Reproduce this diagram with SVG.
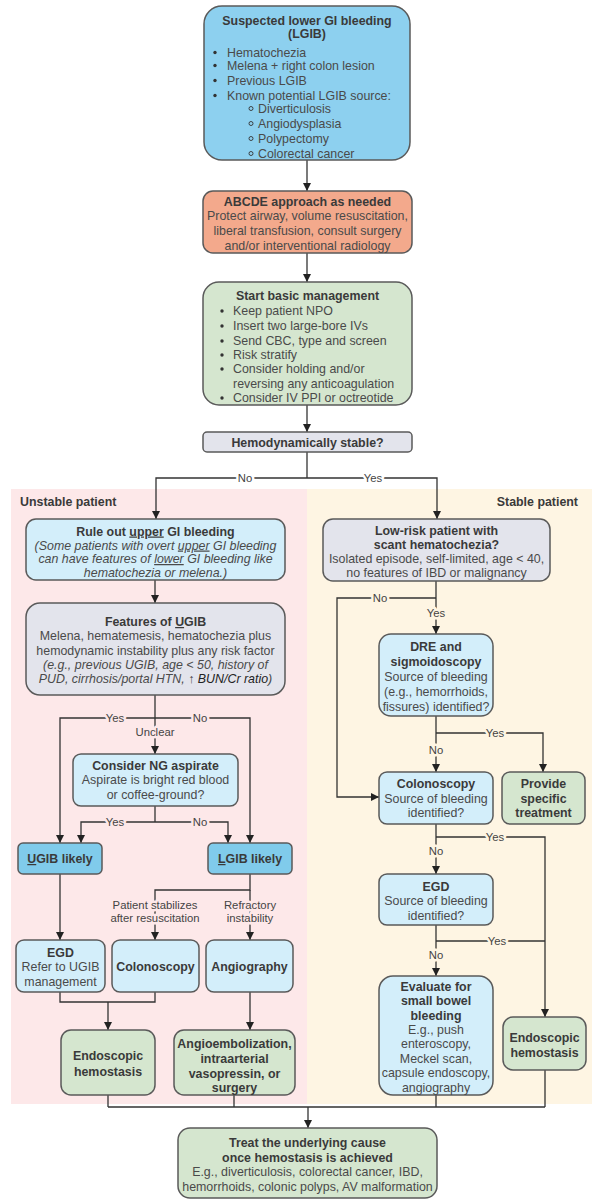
<svg xmlns="http://www.w3.org/2000/svg" width="602" height="1200" viewBox="0 0 602 1200">
<defs>
<marker id="ah" markerUnits="userSpaceOnUse" markerWidth="10" markerHeight="10" refX="8" refY="4" orient="auto">
<path d="M0,0 L8,4 L0,8 Z" fill="#222"/>
</marker>
<style>
text{font-family:"Liberation Sans",Arial,sans-serif;font-size:12.4px;fill:#4a4a4a}
.c{text-anchor:middle}
.b{font-weight:bold;fill:#3a3a3a}
.i{font-style:italic}
.u{text-decoration:underline}
.box{stroke:#5a5a5a;stroke-width:1.5}
.blue{fill:#8dd0ef}
.lblue{fill:#d3eefa}
.mblue{fill:#80cbeb}
.salmon{fill:#f3a98c}
.green{fill:#d5e6cf}
.gray{fill:#e3e4ec}
.ln{fill:none;stroke:#333;stroke-width:1.3}
.arr{marker-end:url(#ah)}
.lbl{font-size:11.3px;text-anchor:middle;fill:#444;paint-order:stroke;stroke-width:5px;stroke-linejoin:round}
.lw{stroke:#ffffff}
.lp{stroke:#fde8e9}
.ly{stroke:#fef5e3}
</style>
</defs>
<rect width="602" height="1200" fill="#ffffff"/>
<!-- panels -->
<g id="panels">
<rect x="11" y="489" width="296" height="615" fill="#fde8e9"/>
<rect x="307" y="489" width="285" height="615" fill="#fef5e3"/>
<text x="20" y="506" class="b">Unstable patient</text>
<text x="578" y="506" class="b" text-anchor="end">Stable patient</text>
</g>
<!-- connectors -->
<g id="connectors">
<path class="ln arr" d="M307,160 V191"/>
<path class="ln arr" d="M307,253 V282"/>
<path class="ln arr" d="M307,405 V432"/>
<path class="ln" d="M307,452 V478"/>
<path class="ln arr" d="M307,478 H156 V519"/>
<path class="ln arr" d="M307,478 H437 V519"/>
<text x="245" y="482" class="lbl lw">No</text>
<text x="373" y="482" class="lbl lw">Yes</text>
<!-- left -->
<path class="ln arr" d="M155,580 V603"/>
<path class="ln arr" d="M155,695 V754"/>
<path class="ln arr" d="M155,718 H60 V843"/>
<path class="ln arr" d="M155,718 H250 V843"/>
<text x="115" y="722" class="lbl lp">Yes</text>
<text x="200" y="722" class="lbl lp">No</text>
<text x="155" y="736" class="lbl lp">Unclear</text>
<path class="ln" d="M155,806 V822"/>
<path class="ln arr" d="M155,822 H81 V843"/>
<path class="ln arr" d="M155,822 H228 V843"/>
<text x="115" y="826" class="lbl lp">Yes</text>
<text x="200" y="826" class="lbl lp">No</text>
<path class="ln arr" d="M60,874 V940"/>
<path class="ln arr" d="M250,874 V890 H155 V940"/>
<path class="ln arr" d="M250,890 V940"/>
<text x="155" y="909" class="lbl lp">Patient stabilizes</text>
<text x="155" y="922" class="lbl lp">after resuscitation</text>
<text x="250" y="909" class="lbl lp">Refractory</text>
<text x="250" y="922" class="lbl lp">instability</text>
<path class="ln" d="M60,992 V1002 H155 V992"/>
<path class="ln arr" d="M108,1002 V1030"/>
<path class="ln arr" d="M250,992 V1030"/>
<!-- right -->
<path class="ln arr" d="M436,581 V634"/>
<path class="ln arr" d="M436,598 H337 V797 H379"/>
<text x="380" y="602" class="lbl ly">No</text>
<text x="436" y="617" class="lbl ly">Yes</text>
<path class="ln arr" d="M436,716 V772"/>
<path class="ln arr" d="M436,733 H543 V772"/>
<text x="495" y="737" class="lbl ly">Yes</text>
<text x="436" y="754" class="lbl ly">No</text>
<path class="ln arr" d="M436,824 V874"/>
<path class="ln arr" d="M436,837 H545 V1017"/>
<text x="495" y="841" class="lbl ly">Yes</text>
<text x="436" y="855" class="lbl ly">No</text>
<path class="ln arr" d="M436,925 V976"/>
<path class="ln" d="M436,941 H545"/>
<text x="497" y="945" class="lbl ly">Yes</text>
<text x="436" y="959" class="lbl ly">No</text>
<!-- bottom -->
<path class="ln" d="M108,1095 V1107 M234,1095 V1107 M436,1095 V1107 M545,1070 V1107 M108,1107 H545"/>
<path class="ln arr" d="M308,1107 V1128"/>
</g>
<!-- nodes -->
<g id="n_suspected">
<rect x="204" y="6" width="206" height="154" rx="18" class="box blue"/>
<text x="307" y="24.5" class="c b">Suspected lower GI bleeding</text>
<text x="307" y="38" class="c b">(LGIB)</text>
<circle cx="215" cy="52.5" r="1.7" fill="#333"/>
<circle cx="215" cy="65.5" r="1.7" fill="#333"/>
<circle cx="215" cy="80.5" r="1.7" fill="#333"/>
<circle cx="215" cy="95.5" r="1.7" fill="#333"/>
<text x="227" y="56.5" fill="#333">Hematochezia</text>
<text x="227" y="69.5" fill="#333">Melena + right colon lesion</text>
<text x="227" y="84.5" fill="#333">Previous LGIB</text>
<text x="227" y="99.5" fill="#333">Known potential LGIB source:</text>
<circle cx="251" cy="108.5" r="2" fill="none" stroke="#333" stroke-width="0.9"/>
<circle cx="251" cy="123.5" r="2" fill="none" stroke="#333" stroke-width="0.9"/>
<circle cx="251" cy="138.5" r="2" fill="none" stroke="#333" stroke-width="0.9"/>
<circle cx="251" cy="153.5" r="2" fill="none" stroke="#333" stroke-width="0.9"/>
<text x="258" y="112.5" fill="#333">Diverticulosis</text>
<text x="258" y="127.5" fill="#333">Angiodysplasia</text>
<text x="258" y="142.5" fill="#333">Polypectomy</text>
<text x="258" y="157.5" fill="#333">Colorectal cancer</text>
</g>
<g id="n_abcde">
<rect x="203" y="191" width="209" height="62" rx="10" class="box salmon"/>
<text x="307.5" y="205.5" class="c b">ABCDE approach as needed</text>
<text x="307.5" y="219.5" class="c">Protect airway, volume resuscitation,</text>
<text x="307.5" y="234.5" class="c">liberal transfusion, consult surgery</text>
<text x="307.5" y="249.5" class="c">and/or interventional radiology</text>
</g>
<g id="n_basic">
<rect x="203" y="282" width="209" height="123" rx="16" class="box green"/>
<text x="307.5" y="299.5" class="c b">Start basic management</text>
<circle cx="222" cy="311" r="1.7" fill="#333"/>
<circle cx="222" cy="326" r="1.7" fill="#333"/>
<circle cx="222" cy="341" r="1.7" fill="#333"/>
<circle cx="222" cy="355" r="1.7" fill="#333"/>
<circle cx="222" cy="369" r="1.7" fill="#333"/>
<circle cx="222" cy="398" r="1.7" fill="#333"/>
<text x="233" y="315" fill="#333">Keep patient NPO</text>
<text x="233" y="330" fill="#333">Insert two large-bore IVs</text>
<text x="233" y="345" fill="#333">Send CBC, type and screen</text>
<text x="233" y="359" fill="#333">Risk stratify</text>
<text x="233" y="373" fill="#333">Consider holding and/or</text>
<text x="233" y="388" fill="#333">reversing any anticoagulation</text>
<text x="233" y="402" fill="#333">Consider IV PPI or octreotide</text>
</g>
<g id="n_hemo">
<rect x="203" y="432" width="209" height="20" rx="4" class="box gray"/>
<text x="307.5" y="446.5" class="c b">Hemodynamically stable?</text>
</g>
<g id="n_ruleout">
<rect x="26" y="519" width="259" height="61" rx="10" class="box lblue"/>
<text x="155.5" y="535.5" class="c b">Rule out <tspan class="u">upper</tspan> GI bleeding</text>
<text x="155.5" y="549.5" class="c i">(Some patients with overt <tspan class="u">upper</tspan> GI bleeding</text>
<text x="155.5" y="563" class="c i">can have features of <tspan class="u">lower</tspan> GI bleeding like</text>
<text x="155.5" y="576.5" class="c i">hematochezia or melena.)</text>
</g>
<g id="n_features">
<rect x="26" y="603" width="259" height="92" rx="14" class="box gray"/>
<text x="155.5" y="626" class="c b">Features of <tspan class="u">U</tspan>GIB</text>
<text x="155.5" y="640" class="c">Melena, hematemesis, hematochezia plus</text>
<text x="155.5" y="654.5" class="c">hemodynamic instability plus any risk factor</text>
<text x="155.5" y="669" class="c i">(e.g., previous UGIB, age &lt; 50, history of</text>
<text x="155.5" y="682.5" class="c i">PUD, cirrhosis/portal HTN, ↑ <tspan fill="#222">BUN/Cr ratio</tspan>)</text>
</g>
<g id="n_ng">
<rect x="73" y="754" width="165" height="52" rx="8" class="box lblue"/>
<text x="155.5" y="770" class="c b">Consider NG aspirate</text>
<text x="155.5" y="784" class="c">Aspirate is bright red blood</text>
<text x="155.5" y="798.5" class="c">or coffee-ground?</text>
</g>
<g id="n_ugib">
<rect x="18" y="843" width="84" height="31" rx="5" class="box mblue"/>
<text x="60" y="863" class="c b"><tspan class="u">U</tspan>GIB likely</text>
</g>
<g id="n_lgib">
<rect x="208" y="843" width="84" height="31" rx="5" class="box mblue"/>
<text x="250" y="863" class="c b"><tspan class="u">L</tspan>GIB likely</text>
</g>
<g id="n_egd_left">
<rect x="16" y="940" width="89" height="52" rx="8" class="box lblue"/>
<text x="60.5" y="957" class="c b">EGD</text>
<text x="60.5" y="971" class="c">Refer to UGIB</text>
<text x="60.5" y="986" class="c">management</text>
</g>
<g id="n_colo_left">
<rect x="112" y="940" width="87" height="52" rx="8" class="box lblue"/>
<text x="155.5" y="971" class="c b">Colonoscopy</text>
</g>
<g id="n_angio">
<rect x="206" y="940" width="87" height="52" rx="8" class="box lblue"/>
<text x="249.5" y="971" class="c b">Angiography</text>
</g>
<g id="n_endo_left">
<rect x="61" y="1030" width="94" height="65" rx="10" class="box green"/>
<text x="108" y="1059.5" class="c b">Endoscopic</text>
<text x="108" y="1075.5" class="c b">hemostasis</text>
</g>
<g id="n_angioemb">
<rect x="174" y="1030" width="121" height="65" rx="10" class="box green"/>
<text x="234.5" y="1047.5" class="c b">Angioembolization,</text>
<text x="234.5" y="1062.5" class="c b">intraarterial</text>
<text x="234.5" y="1077.5" class="c b">vasopressin, or</text>
<text x="234.5" y="1091.5" class="c b">surgery</text>
</g>
<g id="n_lowrisk">
<rect x="323" y="519" width="227" height="62" rx="10" class="box gray"/>
<text x="436.5" y="534.5" class="c b">Low-risk patient with</text>
<text x="436.5" y="548.5" class="c b">scant hematochezia?</text>
<text x="436.5" y="562.5" class="c">Isolated episode, self-limited, age &lt; 40,</text>
<text x="436.5" y="577" class="c">no features of IBD or malignancy</text>
</g>
<g id="n_dre">
<rect x="379" y="634" width="114" height="82" rx="12" class="box lblue"/>
<text x="436" y="651" class="c b">DRE and</text>
<text x="436" y="666" class="c b">sigmoidoscopy</text>
<text x="436" y="681" class="c">Source of bleeding</text>
<text x="436" y="696" class="c">(e.g., hemorrhoids,</text>
<text x="436" y="710.5" class="c">fissures) identified?</text>
</g>
<g id="n_colo_right">
<rect x="379" y="772" width="114" height="52" rx="8" class="box lblue"/>
<text x="436" y="788" class="c b">Colonoscopy</text>
<text x="436" y="802.5" class="c">Source of bleeding</text>
<text x="436" y="817" class="c">identified?</text>
</g>
<g id="n_provide">
<rect x="502" y="772" width="83" height="52" rx="8" class="box green"/>
<text x="543.5" y="788" class="c b">Provide</text>
<text x="543.5" y="802.5" class="c b">specific</text>
<text x="543.5" y="817" class="c b">treatment</text>
</g>
<g id="n_egd_right">
<rect x="379" y="874" width="114" height="51" rx="8" class="box lblue"/>
<text x="436" y="891" class="c b">EGD</text>
<text x="436" y="905" class="c">Source of bleeding</text>
<text x="436" y="919.5" class="c">identified?</text>
</g>
<g id="n_smallbowel">
<rect x="379" y="976" width="114" height="119" rx="14" class="box lblue"/>
<text x="436" y="991" class="c b">Evaluate for</text>
<text x="436" y="1005" class="c b">small bowel</text>
<text x="436" y="1019.5" class="c b">bleeding</text>
<text x="436" y="1033.5" class="c">E.g., push</text>
<text x="436" y="1048" class="c">enteroscopy,</text>
<text x="436" y="1062.5" class="c">Meckel scan,</text>
<text x="436" y="1077" class="c">capsule endoscopy,</text>
<text x="436" y="1091.5" class="c">angiography</text>
</g>
<g id="n_endo_right">
<rect x="503" y="1017" width="83" height="53" rx="10" class="box green"/>
<text x="544.5" y="1041.5" class="c b">Endoscopic</text>
<text x="544.5" y="1056.5" class="c b">hemostasis</text>
</g>
<g id="n_treat">
<rect x="178" y="1128" width="259" height="70" rx="12" class="box green"/>
<text x="307.5" y="1146.5" class="c b">Treat the underlying cause</text>
<text x="307.5" y="1161.5" class="c b">once hemostasis is achieved</text>
<text x="307.5" y="1176" class="c">E.g., diverticulosis, colorectal cancer, IBD,</text>
<text x="307.5" y="1190.5" class="c">hemorrhoids, colonic polyps, AV malformation</text>
</g>
</svg>
